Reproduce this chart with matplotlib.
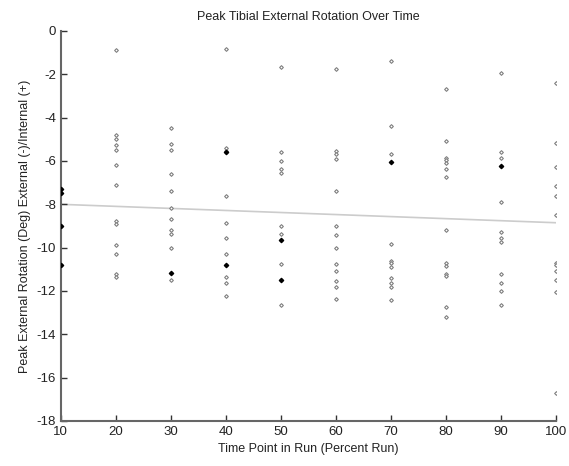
import matplotlib
matplotlib.use("Agg")
import matplotlib.pyplot as plt

plt.rcParams['font.family'] = ['Liberation Sans', 'DejaVu Sans']
plt.rcParams['axes.unicode_minus'] = False

# time points (percent of run) and the peak rotation values read at each one
time_points = [10, 20, 30, 40, 50, 60, 70, 80, 90, 100]

rotation = {
    10: [-7.3, -7.5, -9.0, -10.8],
    20: [-0.9, -4.8, -5.0, -5.25, -5.5, -6.2, -7.1, -8.75, -8.9, -9.9, -10.3, -11.2, -11.35],
    30: [-4.5, -5.2, -5.5, -6.6, -7.4, -8.15, -8.7, -9.2, -9.35, -10.0, -11.15, -11.5],
    40: [-0.85, -5.4, -5.55, -5.6, -7.6, -8.85, -9.55, -10.3, -10.8, -11.35, -11.65, -12.25],
    50: [-1.65, -5.6, -6.0, -6.35, -6.55, -9.0, -9.35, -9.65, -10.75, -11.5, -12.65],
    60: [-1.75, -5.55, -5.7, -5.9, -7.4, -9.0, -9.4, -10.0, -10.75, -11.1, -11.55, -11.8, -12.35],
    70: [-1.4, -4.4, -5.7, -6.05, -9.85, -10.6, -10.7, -10.9, -11.4, -11.65, -11.8, -12.4],
    80: [-2.7, -5.1, -5.85, -5.95, -6.1, -6.35, -6.75, -9.2, -10.7, -10.85, -11.2, -11.3, -12.75, -13.2],
    90: [-1.95, -5.6, -5.85, -6.25, -7.9, -9.3, -9.55, -9.75, -11.2, -11.65, -12.0, -12.65],
    100: [-2.4, -5.15, -6.3, -7.15, -7.6, -8.5, -10.7, -10.8, -11.1, -11.5, -12.05, -16.7],
}

# points that show up darker (overlapping subjects)
dark_x = [10, 10, 10, 10, 30, 40, 40, 50, 50, 70, 90]
dark_y = [-7.3, -7.5, -9.0, -10.8, -11.15, -5.6, -10.8, -9.65, -11.5, -6.05, -6.25]

# fitted trend line end points
trend_x = [10, 100]
trend_y = [-8.0, -8.85]

xs = []
ys = []
for t in time_points:
    for v in rotation[t]:
        xs.append(t)
        ys.append(v)

fig = plt.figure(figsize=(5.69, 4.66), dpi=100)
ax = fig.add_axes([0.107, 0.0966, 0.870, 0.8369])

ax.plot(trend_x, trend_y, color="#cccccc", linewidth=1.2, zorder=1)
ax.scatter(xs, ys, marker="D", s=3.5, facecolors="white", edgecolors="#808080",
           linewidths=0.8, zorder=2)
ax.scatter(dark_x, dark_y, marker="D", s=4.5, color="black", zorder=3)

ax.set_xlim(10, 100)
ax.set_ylim(-18, 0)
ax.set_xticks(time_points)
ax.set_yticks(range(-18, 1, 2))

for side in ["top", "right"]:
    ax.spines[side].set_visible(False)
for side in ["left", "bottom"]:
    ax.spines[side].set_color("#666666")
    ax.spines[side].set_linewidth(1.5)

ax.tick_params(direction="in", length=4, width=1, color="#333333",
               labelsize=9.5, labelcolor="#222222")
ax.set_xlabel("Time Point in Run (Percent Run)", fontsize=9, color="#222222", labelpad=4)
ax.set_ylabel("Peak External Rotation (Deg) External (-)/Internal (+)", fontsize=9,
              color="#222222", labelpad=4)
ax.set_title("Peak Tibial External Rotation Over Time", fontsize=9, color="#222222", pad=8)

fig.savefig("out.png", dpi=100)
